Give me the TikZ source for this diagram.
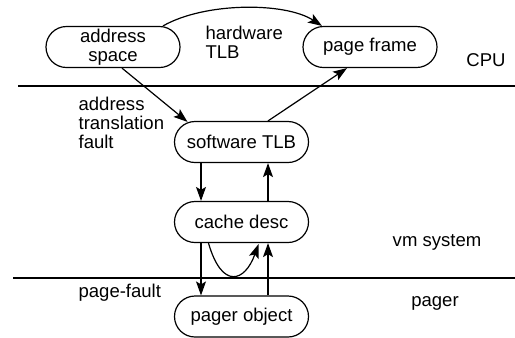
\documentclass[tikz,border=0pt]{standalone}
\usepackage{fontspec}
\setmainfont{Liberation Sans}
\usetikzlibrary{shapes.misc,calc,arrows.meta,positioning}
\tikzstyle{vm}=[
  x=0.5bp,y=-0.5bp,line width=0.6bp,
  >={Stealth[length=7bp,width=5bp,inset=1.5bp]},
  font=\fontsize{9.3}{9.4}\selectfont
]
\tikzstyle{vmnode}=[
  draw,rounded rectangle,minimum width=67bp,minimum height=20.5bp,
  inner sep=0pt,align=center,fill=white
]
\tikzstyle{vmlabel}=[
  align=left,inner sep=0pt
]

\begin{document}
\begin{tikzpicture}[vm]
    \useasboundingbox (0,0) rectangle (515,337);
    % layer boundaries
    \draw (18,86) -- (515,86);
    \draw (13,278) -- (515,278);
    \node (as) at (113,47) [vmnode] {address\\space};
    \node (pf) at (370,47) [vmnode] {page frame};
    \node (stlb) at (241.5,142) [vmnode] {software TLB};
    \node (cd) at (241.5,222) [vmnode] {cache desc};
    \node (po) at (241.5,316.5) [vmnode] {pager object};
    \node (hw) at (205,42) [vmlabel,anchor=west] {hardware\\TLB};
    \node (atf) at (78,123) [vmlabel,anchor=west] {address\\translation\\fault};
    \node (pgf) at (78,293) [vmlabel,anchor=west] {page-fault};
    \node (cpu) at (486,60) [vmlabel] {CPU};
    \node (vms) at (437,242) [vmlabel] {vm system};
    \node (pgr) at (435,303) [vmlabel] {pager};
    \draw [->] ($(as.north)+(50,0)$) .. controls (205,2) and (285,2) .. ($(pf.north)+(-48,0)$);
    \draw [->] ($(as.south)+(9,0)$) -- ($(stlb.north)+(-54,1)$);
    \draw [->] ($(stlb.north)+(26.5,0)$) -- ($(pf.south)+(-23,0)$);
    \draw [->] ($(stlb.south)+(-40.5,0)$) -- ($(cd.north)+(-40.5,0)$);
    \draw [->] ($(cd.north)+(26.5,0)$) -- ($(stlb.south)+(26.5,0)$);
    \draw [->] ($(cd.south)+(-40.5,0)$) -- ($(po.north)+(-40.5,0)$);
    \draw [->] ($(po.north)+(26.5,0)$) -- ($(cd.south)+(26.5,0)$);
    \draw [->] ($(cd.south)+(-33,0)$) .. controls (222,290) and (245,282) .. ($(cd.south)+(17,1)$);
\end{tikzpicture}
\end{document}
